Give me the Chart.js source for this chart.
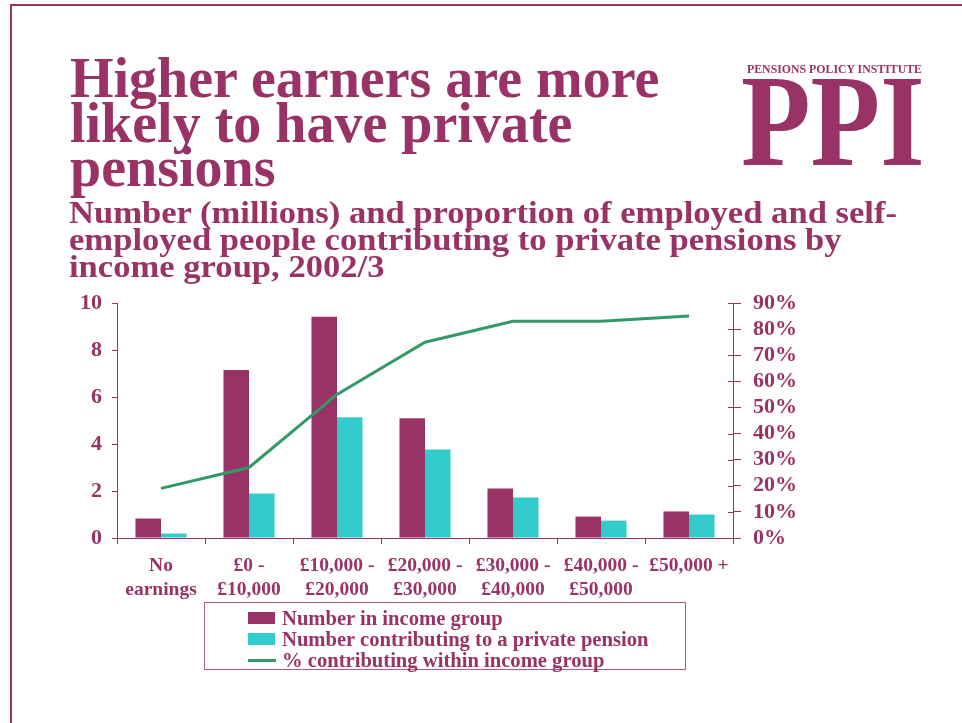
<!DOCTYPE html>
<html>
<head>
<meta charset="utf-8">
<script src="https://cdn.jsdelivr.net/npm/chart.js@4/dist/chart.umd.min.js"></script>
<style>
  html, body { margin: 0; padding: 0; background: #ffffff; }
  #page { position: relative; width: 962px; height: 723px; overflow: hidden;
          font-family: 'Liberation Serif', 'Times New Roman', serif; color: #993366; }
  #frameTop { position: absolute; left: 10px; top: 4px; width: 952px; height: 2px; background: #993366; }
  #frameLeft { position: absolute; left: 10px; top: 4px; width: 2px; height: 719px; background: #993366; }
  #title { position: absolute; left: 70px; top: 56px; font-size: 56px; line-height: 44.5px;
           font-weight: bold; white-space: nowrap; }
  #subtitle { position: absolute; left: 69px; top: 199px; font-size: 31px; line-height: 27px;
              font-weight: bold; white-space: nowrap; transform-origin: left top; display: inline-block; }
  #ppiSmall { position: absolute; left: 747px; top: 63px; font-size: 12px; line-height: 12px; font-weight: bold;
              white-space: nowrap; transform-origin: left top; display: inline-block; }
  #ppiBig { position: absolute; left: 741px; top: 55px; font-size: 131px; line-height: 131px;
            font-weight: bold; white-space: nowrap; transform: scaleX(0.87); transform-origin: left top; }
  #chart { position: absolute; left: 0; top: 0; }
  #legend { position: absolute; left: 204px; top: 602px; width: 482px; height: 68px;
            border: 1px solid #b05a8a; box-sizing: border-box; }
  .item { position: absolute; left: 43px; height: 21px; font-size: 20px; font-weight: bold;
          line-height: 21px; white-space: nowrap; }
  .swatch { position: absolute; left: 0; top: 4px; width: 27px; height: 12px; }
  .lineSwatch { position: absolute; left: 0; top: 9px; width: 28px; height: 3px; }
  .label { position: absolute; left: 34px; top: 0; transform: scaleX(1.03); transform-origin: left top; }
</style>
</head>
<body>
<div id="page">
  <canvas id="chart" width="962" height="723"></canvas>
  <div id="frameTop"></div>
  <div id="frameLeft"></div>
  <div id="title">Higher earners are more<br>likely to have private<br>pensions</div>
  <div id="subtitle">Number (millions) and proportion of employed and self-<br>employed people contributing to private pensions by<br>income group, 2002/3</div>
  <div id="ppiSmall">PENSIONS POLICY INSTITUTE</div>
  <div id="ppiBig">PPI</div>
  <div id="legend"></div>
</div>
<script>
// Income groups (two-line axis labels)
const categories = [
  ['No', 'earnings'],
  ['£0 -', '£10,000'],
  ['£10,000 -', '£20,000'],
  ['£20,000 -', '£30,000'],
  ['£30,000 -', '£40,000'],
  ['£40,000 -', '£50,000'],
  '£50,000 +'
];

// Millions of people in each income group
const numberInGroup = [0.83, 7.15, 9.42, 5.10, 2.11, 0.91, 1.13];
// Millions contributing to a private pension
const numberContributing = [0.19, 1.89, 5.14, 3.77, 1.72, 0.74, 1.00];
// Percentage contributing within each group
const pctContributing = [19, 27, 55, 75, 83, 83, 85];

const seriesNames = [
  'Number in income group',
  'Number contributing to a private pension',
  '% contributing within income group'
];

const leftAxisMax = 10;
const leftAxisStep = 2;
const rightAxisMax = 90;
const rightAxisStep = 10;

const PURPLE = '#993366';
const CYAN = '#33CCCC';
const GREEN = '#339966';
const FONT = "'Liberation Serif', 'Times New Roman', serif";

// Squeeze or stretch a text block horizontally to a given width
function fitWidth(id, width) {
  const el = document.getElementById(id);
  const w = el.getBoundingClientRect().width;
  el.style.transform = 'scaleX(' + (width / w) + ')';
}
fitWidth('subtitle', 828);
fitWidth('ppiSmall', 175);

// Short tick marks on the inner side of the right-hand axis
const innerTicks = {
  id: 'innerTicks',
  afterDraw(chart) {
    const s = chart.scales.y1;
    const ctx = chart.ctx;
    ctx.save();
    ctx.strokeStyle = PURPLE;
    ctx.lineWidth = 1;
    s.ticks.forEach(t => {
      const y = Math.round(s.getPixelForValue(t.value)) + 0.5;
      ctx.beginPath();
      ctx.moveTo(s.left - 5, y);
      ctx.lineTo(s.left, y);
      ctx.stroke();
    });
    ctx.restore();
  }
};

new Chart(document.getElementById('chart'), {
  data: {
    labels: categories,
    datasets: [
      {
        type: 'line',
        label: seriesNames[2],
        data: pctContributing,
        yAxisID: 'y1',
        borderColor: GREEN,
        borderWidth: 3,
        pointRadius: 0,
        tension: 0,
        order: 0
      },
      {
        type: 'bar',
        label: seriesNames[0],
        data: numberInGroup,
        yAxisID: 'y',
        backgroundColor: PURPLE,
        categoryPercentage: 0.58,
        barPercentage: 1.0,
        order: 1
      },
      {
        type: 'bar',
        label: seriesNames[1],
        data: numberContributing,
        yAxisID: 'y',
        backgroundColor: CYAN,
        categoryPercentage: 0.58,
        barPercentage: 1.0,
        order: 1
      }
    ]
  },
  options: {
    responsive: false,
    animation: false,
    devicePixelRatio: 1,
    layout: { padding: { top: 303, left: 0, right: 0, bottom: 0 } },
    plugins: { legend: { display: false }, tooltip: { enabled: false } },
    scales: {
      x: {
        type: 'category',
        offset: true,
        afterFit(scale) { scale.height = 185; },
        grid: { offset: true, drawOnChartArea: false, drawTicks: true, tickLength: 6, color: PURPLE },
        border: { display: true, color: PURPLE, width: 1 },
        ticks: {
          color: PURPLE,
          padding: 10,
          maxRotation: 0,
          autoSkip: false,
          font: { family: FONT, size: 19.5, weight: 'bold', lineHeight: 24 / 19.5 }
        }
      },
      y: {
        position: 'left',
        min: 0,
        max: leftAxisMax,
        afterFit(scale) { scale.width = 117; },
        grid: { drawOnChartArea: false, drawTicks: true, tickLength: 5, color: PURPLE },
        border: { display: true, color: PURPLE, width: 1 },
        ticks: {
          stepSize: leftAxisStep,
          autoSkip: false,
          color: PURPLE,
          padding: 10,
          font: { family: FONT, size: 22, weight: 'bold' }
        }
      },
      y1: {
        position: 'right',
        min: 0,
        max: rightAxisMax,
        afterFit(scale) { scale.width = 229; },
        grid: { drawOnChartArea: false, drawTicks: true, tickLength: 8, color: PURPLE },
        border: { display: true, color: PURPLE, width: 1 },
        ticks: {
          stepSize: rightAxisStep,
          autoSkip: false,
          color: PURPLE,
          padding: 12,
          callback: v => v + '%',
          font: { family: FONT, size: 22, weight: 'bold' }
        }
      }
    }
  },
  plugins: [innerTicks]
});

// Legend built from the series names and colours
const legend = document.getElementById('legend');
const swatches = [
  { cls: 'swatch', color: PURPLE },
  { cls: 'swatch', color: CYAN },
  { cls: 'lineSwatch', color: GREEN }
];
const rowTops = [5, 26, 47];
seriesNames.forEach((name, i) => {
  const row = document.createElement('div');
  row.className = 'item';
  row.style.top = rowTops[i] + 'px';
  const sw = document.createElement('div');
  sw.className = swatches[i].cls;
  sw.style.background = swatches[i].color;
  const lb = document.createElement('div');
  lb.className = 'label';
  lb.textContent = name;
  row.appendChild(sw);
  row.appendChild(lb);
  legend.appendChild(row);
});
</script>
</body>
</html>
